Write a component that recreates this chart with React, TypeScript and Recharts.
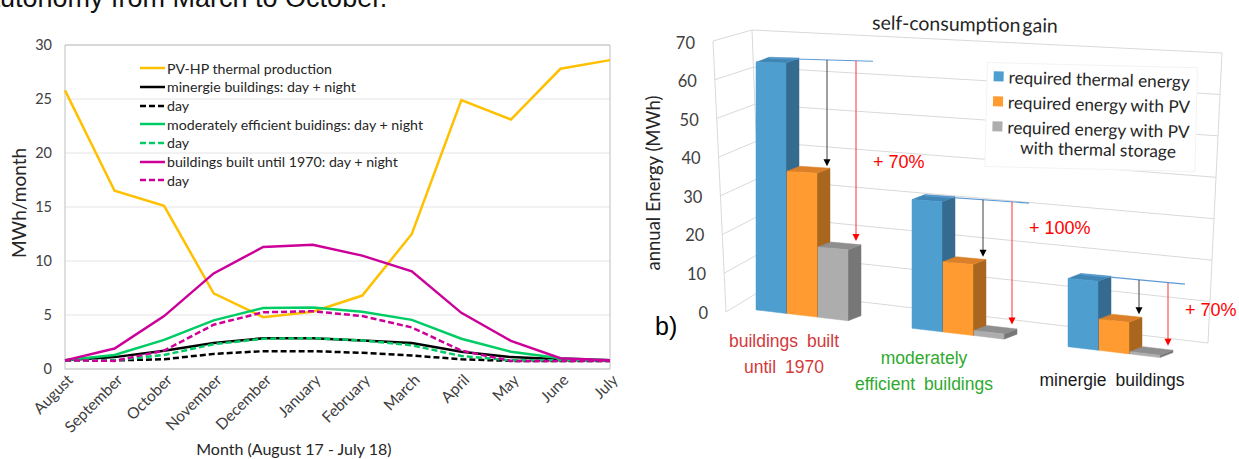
import React from 'react';
import {
  LineChart, Line, XAxis, YAxis, CartesianGrid, ReferenceArea, Legend, Label,
  BarChart, Bar,
} from 'recharts';

// ---------------- Left chart data ----------------
const months = ['August', 'September', 'October', 'November', 'December', 'January', 'February', 'March', 'April', 'May', 'June', 'July'];
const pvHpThermalProduction = [25.8, 16.5, 15.1, 7.0, 4.8, 5.3, 6.8, 12.5, 24.9, 23.1, 27.8, 28.6];
const minergieDayNight = [0.8, 1.1, 1.7, 2.4, 2.85, 2.85, 2.65, 2.4, 1.6, 1.1, 0.9, 0.8];
const minergieDay = [0.8, 0.8, 0.9, 1.4, 1.65, 1.65, 1.5, 1.25, 0.9, 0.75, 0.75, 0.75];
const moderateDayNight = [0.8, 1.3, 2.7, 4.5, 5.65, 5.7, 5.3, 4.55, 2.8, 1.6, 1.0, 0.8];
const moderateDay = [0.8, 0.8, 1.3, 2.3, 2.8, 2.85, 2.65, 2.2, 1.2, 0.8, 0.8, 0.8];
const oldDayNight = [0.8, 1.9, 4.9, 8.85, 11.3, 11.5, 10.5, 9.05, 5.2, 2.6, 1.0, 0.8];
const oldDay = [0.8, 0.75, 1.7, 4.1, 5.25, 5.35, 4.9, 3.85, 1.7, 0.75, 0.75, 0.75];
const leftYTicks = [0, 5, 10, 15, 20, 25, 30];

// ---------------- Right chart data ----------------
const buildingTypes = ['buildings built until 1970', 'moderately efficient buildings', 'minergie buildings'];
const buildingTypeLines = [['buildings built', 'until 1970'], ['moderately', 'efficient buildings'], ['minergie buildings']];
const requiredThermalEnergy = [63.5, 33, 17.5];
const requiredEnergyWithPv = [36.5, 18, 8];
const requiredEnergyWithStorage = [18, 1.3, 0.6];
const selfConsumptionGain = ['+ 70%', '+ 100%', '+ 70%'];
const rightYTicks = [0, 10, 20, 30, 40, 50, 60, 70];

// ---------------- styles ----------------
const lineSeries = [
  { key: 'pvhp', name: 'PV-HP thermal production', values: pvHpThermalProduction, color: '#FFC000', dashed: false },
  { key: 'minDN', name: 'minergie buildings: day + night', values: minergieDayNight, color: '#000000', dashed: false },
  { key: 'minD', name: 'day', values: minergieDay, color: '#000000', dashed: true },
  { key: 'modDN', name: 'moderately efficient buidings: day + night', values: moderateDayNight, color: '#00CC66', dashed: false },
  { key: 'modD', name: 'day', values: moderateDay, color: '#00CC66', dashed: true },
  { key: 'oldDN', name: 'buildings built until 1970: day + night', values: oldDayNight, color: '#CC0099', dashed: false },
  { key: 'oldD', name: 'day', values: oldDay, color: '#CC0099', dashed: true },
];

const lineData = months.map((m, i) => {
  const row: any = { month: m };
  lineSeries.forEach((s) => { row[s.key] = s.values[i]; });
  return row;
});

const BLUE = { front: '#4E9FD0', top: '#3F86B4', side: '#356B8F' };
const ORANGE = { front: '#FF9B30', top: '#DB8029', side: '#A8661F' };
const GRAY = { front: '#ADADAD', top: '#8E8E8E', side: '#777777' };
const categoryColors = ['#D23A3A', '#2EAA2E', '#1A1A1A'];
const categoryLabelDx = [0, -16, 16];
const gainLabelDy = [0, -25, 0];

const barSeries = [
  { key: 'thermal', name: 'required thermal energy', palette: BLUE },
  { key: 'pv', name: 'required energy with PV', palette: ORANGE },
  { key: 'storage', name: 'required energy with PV\nwith thermal storage', palette: GRAY },
];

const barData = buildingTypes.map((b, i) => ({
  name: b,
  thermal: requiredThermalEnergy[i],
  pv: requiredEnergyWithPv[i],
  storage: requiredEnergyWithStorage[i],
  gain: selfConsumptionGain[i],
}));

// right chart geometry (internal coordinates of the right svg)
const R_MARGIN = { top: 37, right: 47, bottom: 0, left: 44 };
const R_HEIGHT = 459;
const PLOT_BOTTOM = 310;
const PLOT_H = 273;
const Y_MAX = 70;
const SCALE = PLOT_H / Y_MAX;
const K = 0.118; // floor slope of the perspective
const K_DECAY = 0.0014;
const X0 = 137;
const DX = 13;
const DY = 5;
const BAR_GAP = 1;
const shift = (x: number) => K * (x - X0);

// walls
const FL0 = [106, 312], FL1 = [93, 41];
const BL0 = [142, 290], BL1 = [132, 30];
const BR0 = [588, 343], BR1 = [602, 53];
const lerp = (a: number[], b: number[], t: number) => [a[0] + (b[0] - a[0]) * t, a[1] + (b[1] - a[1]) * t];
const WALL = '#D9D9D9';

const wallLine = (p: any) => {
  const t = (PLOT_BOTTOM - p.y1) / PLOT_H;
  const fl = lerp(FL0, FL1, t);
  const bl = lerp(BL0, BL1, t);
  const br = lerp(BR0, BR1, t);
  return (
    <g key={p.key}>
      <line x1={fl[0]} y1={fl[1]} x2={bl[0]} y2={bl[1]} stroke={WALL} strokeWidth={1} />
      <line x1={bl[0]} y1={bl[1]} x2={br[0]} y2={br[1]} stroke={WALL} strokeWidth={1} />
      {t < 0.001 && (
        <g>
          <line x1={FL0[0]} y1={FL0[1]} x2={FL1[0]} y2={FL1[1]} stroke={WALL} />
          <line x1={BL0[0]} y1={BL0[1]} x2={BL1[0]} y2={BL1[1]} stroke={WALL} />
          <line x1={BR0[0]} y1={BR0[1]} x2={BR1[0]} y2={BR1[1]} stroke={WALL} />
        </g>
      )}
    </g>
  );
};

const pts = (arr: number[][]) => arr.map((p) => `${p[0]},${p[1]}`).join(' ');

const renderBox = (props: any, palette: any) => {
  const { x, y, width: w, height: h } = props;
  if (x == null || y == null || !isFinite(y) || !w) return <g />;
  const v = (PLOT_BOTTOM - y) / SCALE;
  const kTop = K - K_DECAY * v;
  const tl = [x, y + shift(x)];
  const tr = [x + w, tl[1] + kTop * w];
  const bl = [x, y + h + shift(x)];
  const br = [x + w, bl[1] + K * w];
  const top = [tl, [tl[0] + DX, tl[1] - DY], [tr[0] + DX, tr[1] - DY], tr];
  const side = [tr, [tr[0] + DX, tr[1] - DY], [br[0] + DX, br[1] - DY], br];
  const front = [tl, tr, br, bl];
  return (
    <g>
      <polygon points={pts(side)} fill={palette.side} stroke={palette.side} strokeWidth={0.5} />
      <polygon points={pts(top)} fill={palette.top} stroke={palette.top} strokeWidth={0.5} />
      <polygon points={pts(front)} fill={palette.front} stroke={palette.front} strokeWidth={0.5} />
    </g>
  );
};

const yFlat = (v: number) => PLOT_BOTTOM - v * SCALE;

const renderStorage = (props: any) => {
  const { x, width: w, payload, index } = props;
  const box = renderBox(props, GRAY);
  if (!payload || x == null) return box;
  const xb = x - 2 * (w + BAR_GAP);
  const xo = x - (w + BAR_GAP);
  const vB = payload.thermal, vO = payload.pv, vG = payload.storage;
  const blueTop = yFlat(vB) + shift(xb);
  const lx1 = xb + DX;
  const ly1 = blueTop - DY + 1;
  const kv = K - K_DECAY * vB;
  const lineAt = (xx: number) => ly1 + kv * (xx - lx1);
  const lx2 = x + 55;
  const ax = x + 9;
  const aTip = yFlat(vO) + shift(xo) - 5;
  const rx = x + 38;
  const rTip = yFlat(vG) + shift(x) - 6;
  let gi = buildingTypes.indexOf(payload.name);
  if (gi < 0) gi = index ?? 0;
  const textY = aTip + 2 + (gainLabelDy[gi] || 0);
  return (
    <g>
      {box}
      <line x1={lx1} y1={ly1} x2={lx2} y2={lineAt(lx2)} stroke="#5B9BD5" strokeWidth={1.2} />
      <line x1={ax} y1={lineAt(ax)} x2={ax} y2={aTip - 5} stroke="#404040" strokeWidth={1} />
      <polygon points={`${ax - 3.5},${aTip - 7} ${ax + 3.5},${aTip - 7} ${ax},${aTip}`} fill="#000" />
      <line x1={rx} y1={lineAt(rx)} x2={rx} y2={rTip - 5} stroke="#FF3030" strokeWidth={1} />
      <polygon points={`${rx - 3.5},${rTip - 7} ${rx + 3.5},${rTip - 7} ${rx},${rTip}`} fill="#FF0000" />
      <text x={x + 55} y={textY} fontFamily="Liberation Sans" fontSize={18} fill="#FF0000">{payload.gain}</text>
    </g>
  );
};

// ---------------- ticks, labels, legends ----------------
const MonthTick = (props: any) => {
  const { x, y, payload } = props;
  return (
    <text transform={`translate(${x + 9},${y + 12}) rotate(-45)`} textAnchor="end" fontFamily="Lato" fontSize={15.5} fill="#404040">
      {payload.value}
    </text>
  );
};

const LeftXTitle = (props: any) => {
  const vb = props.viewBox || { x: 65, y: 369, width: 545, height: 90 };
  return (
    <text x={vb.x + vb.width * 0.42} y={vb.y + vb.height - 4} textAnchor="middle" fontFamily="Lato" fontSize={16} fill="#262626">
      Month (August 17 - July 18)
    </text>
  );
};

const LeftYTitle = (props: any) => {
  const vb = props.viewBox || { x: 0, y: 45, width: 65, height: 324 };
  const cx = vb.x + 18;
  const cy = vb.y + vb.height / 2 - 4;
  return (
    <text x={cx} y={cy} transform={`rotate(-90, ${cx}, ${cy})`} textAnchor="middle" dominantBaseline="central" fontFamily="Lato" fontSize={19} fill="#262626">
      MWh/month
    </text>
  );
};

const LeftLegend = () => (
  <div style={{ fontFamily: 'Lato', fontSize: 14.2, color: '#262626' }}>
    {lineSeries.map((s) => (
      <div key={s.key} style={{ display: 'flex', alignItems: 'center', height: 18.67 }}>
        <svg width={25} height={6} style={{ marginRight: 2, flex: 'none' }}>
          <line x1={0} y1={3} x2={25} y2={3} stroke={s.color} strokeWidth={2.5} strokeDasharray={s.dashed ? '6 3' : undefined} />
        </svg>
        <span style={{ whiteSpace: 'nowrap' }}>{s.name}</span>
      </div>
    ))}
  </div>
);

const EnergyTick = (props: any) => {
  const { y, payload } = props;
  const t = (PLOT_BOTTOM - y) / PLOT_H;
  return (
    <text x={88 - 13 * t} y={y + 3 + 3 * t} dy={5.5} textAnchor="end" fontFamily="Lato" fontSize={16.5} fill="#404040">
      {payload.value}
    </text>
  );
};

const CategoryTick = (props: any) => {
  const { x, y, payload } = props;
  let idx = buildingTypes.indexOf(payload?.value);
  if (idx < 0) idx = props.index ?? 0;
  const lines = buildingTypeLines[idx] || [payload.value];
  const cx = x - 18 + (categoryLabelDx[idx] || 0);
  const base = y + 34 + shift(cx);
  return (
    <g>
      {lines.map((ln, i) => (
        <text key={i} x={cx} y={base + i * 26} textAnchor="middle" fontFamily="Liberation Sans" fontSize={17.5} fill={categoryColors[idx]} style={{ wordSpacing: 4 }}>
          {ln}
        </text>
      ))}
    </g>
  );
};

const RightYTitle = () => (
  <text x={33} y={183} transform="rotate(-90, 33, 183)" textAnchor="middle" dominantBaseline="central" fontFamily="Lato" fontSize={18.5} fill="#262626">
    annual Energy  (MWh)
  </text>
);

const RightLegend = () => (
  <div style={{ background: '#fff', border: '1px solid #F3F3F3', padding: '4px 6px', transform: 'rotate(1.4deg)', transformOrigin: '0 0', fontFamily: 'Lato', fontSize: 17.2, color: '#262626', lineHeight: '20px' }}>
    {barSeries.map((s) => (
      <div key={s.key} style={{ display: 'flex', alignItems: 'flex-start', marginBottom: 5 }}>
        <span style={{ width: 10, height: 10, background: s.palette.front, marginTop: 4, marginRight: 5, flex: 'none' }} />
        <span style={{ whiteSpace: 'pre-line', textAlign: 'center', display: 'inline-block' }}>{s.name}</span>
      </div>
    ))}
  </div>
);

export default function App() {
  return (
    <div style={{ position: 'absolute', left: 0, top: 0, width: 1239, height: 459, overflow: 'hidden', background: '#fff' }}>
      <div style={{ position: 'absolute', left: -15, top: -15, fontFamily: 'Liberation Sans', fontSize: 27, lineHeight: 1, color: '#111', whiteSpace: 'nowrap' }}>
        autonomy from March to October.
      </div>

      <div style={{ position: 'absolute', left: 0, top: 0 }}>
        <LineChart width={620} height={459} data={lineData} margin={{ top: 45, right: 10, bottom: 0, left: 0 }}>
          <CartesianGrid vertical={false} stroke="#E4E4E4" />
          <ReferenceArea y1={0} y2={30} fill="none" fillOpacity={0} stroke="#BFBFBF" strokeWidth={1} />
          <XAxis dataKey="month" interval={0} tickLine={false} axisLine={false} tickSize={0} tickMargin={0} height={90} tick={<MonthTick />}>
            <Label content={LeftXTitle} />
          </XAxis>
          <YAxis domain={[0, 30]} ticks={leftYTicks} interval={0} width={65} tickLine={false} axisLine={false} tickSize={0} tickMargin={13}
            tick={{ fill: '#404040', fontSize: 14.5, fontFamily: 'Lato' }}>
            <Label content={LeftYTitle} />
          </YAxis>
          <Legend content={<LeftLegend />} layout="vertical" align="center" verticalAlign="middle" wrapperStyle={{ left: 140, top: 59, width: 'auto', height: 'auto' }} />
          {lineSeries.map((s) => (
            <Line key={s.key} type="linear" dataKey={s.key} name={s.name} stroke={s.color} strokeWidth={2.5}
              strokeDasharray={s.dashed ? '6 3' : undefined} dot={false} activeDot={false} isAnimationActive={false} />
          ))}
        </LineChart>
      </div>

      <div style={{ position: 'absolute', left: 620, top: 0 }}>
        <BarChart width={619} height={R_HEIGHT} data={barData} margin={R_MARGIN} barCategoryGap={32} barGap={BAR_GAP}>
          <CartesianGrid vertical={false} horizontal={wallLine as any} />
          <XAxis dataKey="name" interval={0} tickLine={false} axisLine={false} tickSize={0} tickMargin={0} height={149} tick={<CategoryTick />} />
          <YAxis domain={[0, Y_MAX]} ticks={rightYTicks} interval={0} width={60} tickLine={false} axisLine={false} tick={<EnergyTick />}>
            <Label content={RightYTitle} />
          </YAxis>
          <Legend content={<RightLegend />} layout="vertical" align="center" verticalAlign="middle" wrapperStyle={{ left: 367, top: 62, width: 'auto', height: 'auto' }} />
          <Bar dataKey="thermal" name={barSeries[0].name} fill={BLUE.front} isAnimationActive={false} activeBar={false}
            shape={(p: any) => renderBox(p, BLUE)} />
          <Bar dataKey="pv" name={barSeries[1].name} fill={ORANGE.front} isAnimationActive={false} activeBar={false}
            shape={(p: any) => renderBox(p, ORANGE)} />
          <Bar dataKey="storage" name={barSeries[2].name} fill={GRAY.front} isAnimationActive={false} activeBar={false}
            shape={renderStorage} />
        </BarChart>
      </div>

      <div style={{ position: 'absolute', left: 855, top: 12, width: 220, textAlign: 'center', fontFamily: 'Lato', fontSize: 19.5, color: '#262626', wordSpacing: -3, transform: 'rotate(1deg)' }}>
        self-consumption gain
      </div>
      <div style={{ position: 'absolute', left: 655, top: 312, fontFamily: 'Liberation Sans', fontSize: 25, color: '#000' }}>
        b)
      </div>
    </div>
  );
}
